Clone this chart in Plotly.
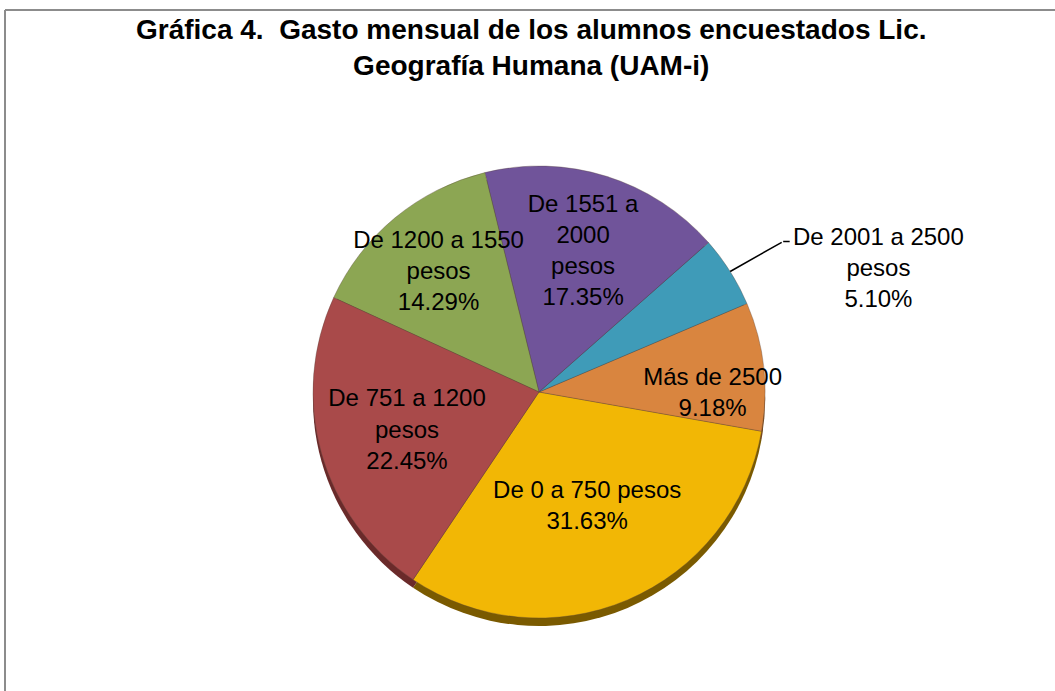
import math
import plotly.graph_objects as go

# ---- data (counter-clockwise order, starting with the largest slice) ----
categories = ["De 0 a 750 pesos", "Más de 2500", "De 2001 a 2500 pesos",
              "De 1551 a 2000 pesos", "De 1200 a 1550 pesos", "De 751 a 1200 pesos"]
display_labels = ["De 0 a 750 pesos", "Más de 2500", "De 2001 a 2500<br>pesos",
                  "De 1551 a<br>2000<br>pesos", "De 1200 a 1550<br>pesos", "De 751 a 1200<br>pesos"]
percentages = [31.63, 9.18, 5.10, 17.35, 14.29, 22.45]
title_text = "Gráfica 4.  Gasto mensual de los alumnos encuestados Lic.<br>Geografía Humana (UAM-i)"

# ---- styles ----
colors = ["#F2B705", "#D9853F", "#3F9BB8", "#70549A", "#8CA653", "#A94A4A"]
shadow_colors = ["#7A5A00", "#7A4A1F", "#1F5A70", "#3F2D5A", "#4F6028", "#6A2A2A"]
text_pos = ["inside", "inside", "none", "inside", "inside", "inside"]
callout_index = 2
rotation = 100
FONT = "Arial, Liberation Sans"

W, H = 1055, 691
cx, cy, r = 539, 392, 226
dom_x = [(cx - r) / W, (cx + r) / W]
dom_y = [(H - cy - r) / H, (H - cy + r) / H]
shift = 8 / H

fig = go.Figure()
# 3D-like shadow rim
fig.add_trace(go.Pie(
    labels=categories, values=percentages, sort=False, direction="counterclockwise",
    rotation=rotation, marker=dict(colors=shadow_colors, line=dict(width=0)),
    textinfo="none", hoverinfo="skip", showlegend=False,
    domain=dict(x=dom_x, y=[dom_y[0] - shift, dom_y[1] - shift]),
))
fig.add_trace(go.Pie(
    labels=categories, values=percentages, sort=False, direction="counterclockwise",
    rotation=rotation,
    marker=dict(colors=colors, line=dict(color="rgba(90,70,60,0.35)", width=1)),
    text=display_labels,
    texttemplate="%{text}<br>%{value:.2f}%",
    textposition=text_pos,
    insidetextorientation="horizontal",
    textfont=dict(family=FONT, size=24, color="#000000"),
    showlegend=False,
    domain=dict(x=dom_x, y=dom_y),
))

# callout label for the small slice, leader line starting on the slice rim at its mid-angle
# (plotly: counter-clockwise pies put the first slice between rotation and rotation + its share)
total = sum(percentages)
start = rotation + 360 * percentages[0] / total
before = sum(percentages[:callout_index]) + percentages[callout_index] / 2
mid = math.radians(start - 360 * before / total)
rim_x = cx + r * math.sin(mid)
rim_y = cy - r * math.cos(mid)
hx, hy = rim_x / W, 1 - rim_y / H

leader = dict(xref="paper", yref="paper", x=hx, y=hy, text="", showarrow=True,
              arrowhead=0, arrowwidth=1.5, arrowcolor="#000000", standoff=0, startstandoff=0)
annotations = [
    dict(text=title_text, xref="paper", yref="paper", x=531 / W, y=1 - 12 / H,
         xanchor="center", yanchor="top", showarrow=False, align="center",
         font=dict(family=FONT, size=28, color="#000000", weight="bold")),
    dict(leader, ax=53, ay=-30),
    dict(leader, ax=8, ay=0, xshift=53, yshift=30),
    dict(text=f"{display_labels[callout_index]}<br>{percentages[callout_index]:.2f}%",
         xref="paper", yref="paper", x=hx, y=hy, showarrow=False,
         xshift=61, yshift=50, xanchor="left", yanchor="top", align="center",
         font=dict(family=FONT, size=24, color="#000000")),
]

fig.update_layout(
    width=W, height=H,
    margin=dict(l=0, r=0, t=0, b=0),
    paper_bgcolor="white",
    plot_bgcolor="white",
    uniformtext=dict(minsize=24, mode="show"),
    annotations=annotations,
    shapes=[
        dict(type="line", xref="paper", yref="paper", x0=5 / W, x1=1, y0=1 - 10 / H, y1=1 - 10 / H,
             line=dict(color="#8C8C8C", width=2)),
        dict(type="line", xref="paper", yref="paper", x0=5 / W, x1=5 / W, y0=0, y1=1 - 10 / H,
             line=dict(color="#8C8C8C", width=2)),
    ],
)

fig.write_html("out.html", config={"displayModeBar": False},
               post_script="document.body.style.margin='0';")
